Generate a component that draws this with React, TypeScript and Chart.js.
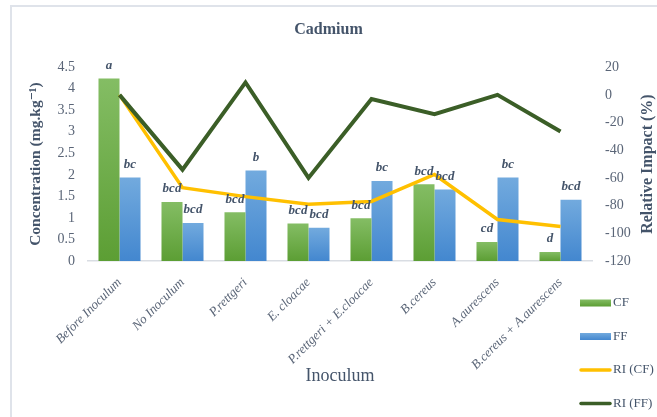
import { useEffect, useRef } from 'react';
import { Chart, registerables } from 'chart.js';

Chart.register(...registerables);

// Cadmium concentration per inoculum treatment and its relative impact
const categories = [
  'Before Inoculum',
  'No Inoculum',
  'P.rettgeri',
  'E. cloacae',
  'P.rettgeri + E.cloacae',
  'B.cereus',
  'A.aurescens',
  'B.cereus + A.aurescens',
];
const cfValues = [4.24, 1.37, 1.13, 0.87, 0.99, 1.78, 0.44, 0.21];
const ffValues = [1.94, 0.88, 2.1, 0.77, 1.86, 1.66, 1.94, 1.42];
const riCfValues = [0, -67, -73.5, -79, -77, -57.5, -90, -95];
const riFfValues = [0, -54, 9, -60, -3, -14, 0, -26.5];
const cfLetters = ['a', 'bcd', 'bcd', 'bcd', 'bcd', 'bcd', 'cd', 'd'];
const ffLetters = ['bc', 'bcd', 'b', 'bcd', 'bc', 'bcd', 'bc', 'bcd'];

const SERIF = '"Liberation Serif", "DejaVu Serif", serif';
const SLATE = '#44546a';
const TICK = '#5a6577';

const GREEN_TOP = '#84bd64';
const GREEN_BOTTOM = '#5c9e34';
const BLUE_TOP = '#72aade';
const BLUE_BOTTOM = '#4387cf';
const YELLOW = '#ffc000';
const DARK_GREEN = '#3b5e27';

function barFill(top: string, bottom: string) {
  return (ctx: any) => {
    const chart = ctx.chart;
    const area = chart.chartArea;
    if (!area || ctx.type !== 'data') return bottom;
    const y = chart.scales.y.getPixelForValue(ctx.raw);
    const g = chart.ctx.createLinearGradient(0, y, 0, area.bottom);
    g.addColorStop(0, top);
    g.addColorStop(1, bottom);
    return g;
  };
}

// Significance letters above each bar
const letterPlugin = {
  id: 'letters',
  afterDatasetsDraw(chart: any) {
    const { ctx } = chart;
    ctx.save();
    ctx.font = `italic bold 13px ${SERIF}`;
    ctx.fillStyle = SLATE;
    ctx.textAlign = 'center';
    ctx.textBaseline = 'middle';
    [cfLetters, ffLetters].forEach((letters, di) => {
      const meta = chart.getDatasetMeta(di);
      meta.data.forEach((bar: any, i: number) => {
        ctx.fillText(letters[i], bar.x, bar.y - 13);
      });
    });
    ctx.restore();
  },
};

// Frame, right axis title and the legend in the lower right corner
const decorPlugin = {
  id: 'decor',
  beforeDraw(chart: any) {
    const { ctx, width, height } = chart;
    ctx.save();
    ctx.strokeStyle = '#dfe3ea';
    ctx.lineWidth = 2;
    ctx.beginPath();
    ctx.moveTo(width, 6);
    ctx.lineTo(11, 6);
    ctx.lineTo(11, height);
    ctx.stroke();
    ctx.restore();
  },
  afterDraw(chart: any) {
    const { ctx, chartArea } = chart;
    ctx.save();
    ctx.font = `bold 16px ${SERIF}`;
    ctx.fillStyle = SLATE;
    ctx.textAlign = 'center';
    ctx.textBaseline = 'middle';
    ctx.translate(648, (chartArea.top + chartArea.bottom) / 2);
    ctx.rotate(-Math.PI / 2);
    ctx.fillText('Relative Impact (%)', 0, 0);
    ctx.restore();

    const items = [
      { label: 'CF', kind: 'bar', top: GREEN_TOP, bottom: GREEN_BOTTOM },
      { label: 'FF', kind: 'bar', top: BLUE_TOP, bottom: BLUE_BOTTOM },
      { label: 'RI (CF)', kind: 'line', color: YELLOW },
      { label: 'RI (FF)', kind: 'line', color: DARK_GREEN },
    ];
    const x0 = chartArea.right - 12;
    const x1 = x0 + 31;
    ctx.save();
    ctx.font = `13px ${SERIF}`;
    ctx.textBaseline = 'middle';
    ctx.textAlign = 'left';
    items.forEach((it: any, i: number) => {
      const y = chartArea.bottom + 42 + i * 33.5;
      if (it.kind === 'bar') {
        const g = ctx.createLinearGradient(0, y - 3.5, 0, y + 3.5);
        g.addColorStop(0, it.top);
        g.addColorStop(1, it.bottom);
        ctx.fillStyle = g;
        ctx.fillRect(x0, y - 3.5, x1 - x0, 7);
      } else {
        ctx.strokeStyle = it.color;
        ctx.lineWidth = 3.5;
        ctx.lineCap = 'round';
        ctx.beginPath();
        ctx.moveTo(x0 + 1, y);
        ctx.lineTo(x1 - 1, y);
        ctx.stroke();
      }
      ctx.fillStyle = SLATE;
      ctx.fillText(it.label, x1 + 2, y);
    });
    ctx.restore();
  },
};

export default function App() {
  const canvasRef = useRef<HTMLCanvasElement | null>(null);

  useEffect(() => {
    const canvas = canvasRef.current;
    if (!canvas) return;
    const chart = new Chart(canvas, {
      type: 'bar',
      data: {
        labels: categories,
        datasets: [
          {
            type: 'bar',
            label: 'CF',
            data: cfValues,
            yAxisID: 'y',
            backgroundColor: barFill(GREEN_TOP, GREEN_BOTTOM),
            borderWidth: 0,
            categoryPercentage: 0.667,
            barPercentage: 1,
            order: 3,
          },
          {
            type: 'bar',
            label: 'FF',
            data: ffValues,
            yAxisID: 'y',
            backgroundColor: barFill(BLUE_TOP, BLUE_BOTTOM),
            borderWidth: 0,
            categoryPercentage: 0.667,
            barPercentage: 1,
            order: 3,
          },
          {
            type: 'line',
            label: 'RI (CF)',
            data: riCfValues,
            yAxisID: 'y1',
            borderColor: YELLOW,
            borderWidth: 3.5,
            pointRadius: 0,
            tension: 0,
            order: 2,
          },
          {
            type: 'line',
            label: 'RI (FF)',
            data: riFfValues,
            yAxisID: 'y1',
            borderColor: DARK_GREEN,
            borderWidth: 4,
            pointRadius: 0,
            tension: 0,
            order: 1,
          },
        ],
      },
      options: {
        responsive: false,
        animation: false,
        layout: { padding: { left: 0, right: 0, top: 0, bottom: 26 } },
        plugins: {
          legend: { display: false },
          tooltip: { enabled: false },
          title: {
            display: true,
            text: 'Cadmium',
            color: SLATE,
            font: { family: SERIF, size: 16, weight: 'bold' },
            padding: { top: 20, bottom: 28 },
          },
        },
        scales: {
          x: {
            type: 'category',
            offset: true,
            grid: { display: false, drawTicks: false },
            border: { display: true, color: '#d9dde3', width: 1.5 },
            ticks: {
              autoSkip: false,
              minRotation: 45,
              maxRotation: 45,
              padding: 14,
              color: TICK,
              font: { family: SERIF, size: 13, style: 'italic' },
            },
            title: {
              display: true,
              text: 'Inoculum',
              color: SLATE,
              font: { family: SERIF, size: 18 },
              padding: { top: 4, bottom: 4 },
            },
            afterFit: (s: any) => {
              s.height = 130;
            },
          },
          y: {
            position: 'left',
            min: 0,
            max: 4.5,
            grid: { display: false, drawTicks: false },
            border: { display: false },
            ticks: {
              stepSize: 0.5,
              padding: 13,
              color: TICK,
              font: { family: SERIF, size: 14 },
              callback: (v: any) => String(v),
            },
            title: {
              display: true,
              text: 'Concentration (mg.kg\u207B\u00B9)',
              color: SLATE,
              font: { family: SERIF, size: 15.5, weight: 'bold' },
              padding: { top: 27, bottom: 0 },
            },
            afterFit: (s: any) => {
              s.width = 88;
            },
          },
          y1: {
            position: 'right',
            min: -120,
            max: 20,
            grid: { display: false, drawTicks: false },
            border: { display: false },
            ticks: {
              stepSize: 20,
              padding: 13,
              color: TICK,
              font: { family: SERIF, size: 14 },
              callback: (v: any) => String(v),
            },
            afterFit: (s: any) => {
              s.width = 65;
            },
          },
        },
      },
      plugins: [letterPlugin, decorPlugin],
    } as any);
    return () => chart.destroy();
  }, []);

  return (
    <div style={{ position: 'absolute', left: 0, top: 0, width: 657, height: 417, background: '#fff' }}>
      <canvas ref={canvasRef} width={657} height={417} style={{ display: 'block' }} />
    </div>
  );
}
